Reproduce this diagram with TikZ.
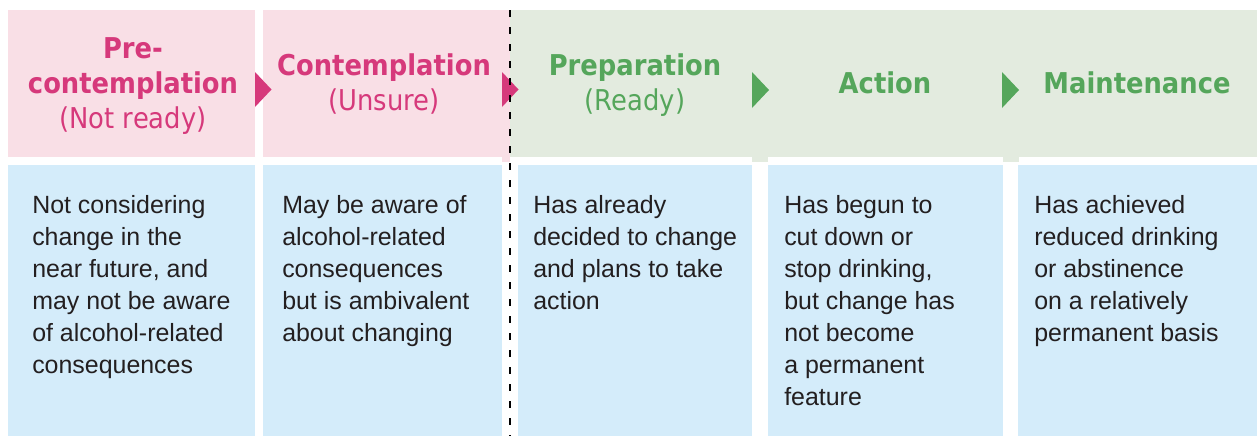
\documentclass[tikz,border=0pt]{standalone}
\usepackage{fontspec}
\setmainfont{Liberation Sans}
\newfontfamily\headfont[FakeStretch=0.9]{DejaVu Sans}

\definecolor{pinkfill}{HTML}{F9DFE6}
\definecolor{pinkink}{HTML}{D6397B}
\definecolor{greenfill}{HTML}{E3EBDF}
\definecolor{greenink}{HTML}{55A65B}
\definecolor{bluefill}{HTML}{D4ECFA}
\definecolor{bodyink}{HTML}{231F20}

\tikzset{
  stage/.style={anchor=base,align=center,inner sep=0pt,
    font=\headfont\fontsize{21.5}{26}\selectfont},
  pinkstage/.style={stage,text=pinkink},
  greenstage/.style={stage,text=greenink},
  body/.style={anchor=base west,align=left,inner sep=0pt,text=bodyink,
    font=\fontsize{18.7}{24}\selectfont},
  divider/.style={line width=1.5pt,dash pattern=on 5.25pt off 7.5pt},
}

\begin{document}
\begin{tikzpicture}[x=.75pt,y=-.75pt]
    \useasboundingbox (0,0) rectangle (1257,436);
    % header bands
    \fill[pinkfill] (8,10) rectangle (255,157);
    \fill[pinkfill] (263,10) rectangle (510,157);
    \fill[pinkfill] (502,157) rectangle (510,162);
    \fill[greenfill] (510,10) rectangle (1257,157);
    \foreach \x in {752,1003}
    \fill[greenfill] (\x,157) rectangle +(16,5);
    % description boxes
    \foreach \a/\b in {8/255,263/502,518/752,768/1003,1018/1257}
    \fill[bluefill] (\a,165) rectangle (\b,436);
    % arrow heads between stages
    \foreach \x in {255,502}
    \fill[pinkink] (\x,72) -- +(16.5,17.5) -- +(0,35) -- cycle;
    \foreach \x in {752,1002}
    \fill[greenink] (\x,72) -- +(17,18) -- +(0,36) -- cycle;
    \draw[divider] (510,10) -- (510,436);
    % stage names (placed by the baseline of their last line)
    \node[pinkstage] (pre) at (133,128) {\textbf{Pre-}\\\textbf{contemplation}\\(Not ready)};
    \node[pinkstage] (con) at (384,110) {\textbf{Contemplation}\\(Unsure)};
    \node[greenstage] (prep) at (635,110) {\textbf{Preparation}\\(Ready)};
    \node[greenstage] (act) at (885,93) {\textbf{Action}};
    \node[greenstage] (main) at (1137,93) {\textbf{Maintenance}};
    % descriptions, 32px per line
    \node[body] (preTxt) at (32,373.5) {Not considering\\change in the\\near future, and\\may not be aware\\of alcohol-related\\consequences};
    \node[body] (conTxt) at (282,341.5) {May be aware of\\alcohol-related\\consequences\\but is ambivalent\\about changing};
    \node[body] (prepTxt) at (533,309.5) {Has already\\decided to change\\and plans to take\\action};
    \node[body] (actTxt) at (784,405.5) {Has begun to\\cut down or\\stop drinking,\\but change has\\not become\\a permanent\\feature};
    \node[body] (mainTxt) at (1034,341.5) {Has achieved\\reduced drinking\\or abstinence\\on a relatively\\permanent basis};
\end{tikzpicture}
\end{document}
